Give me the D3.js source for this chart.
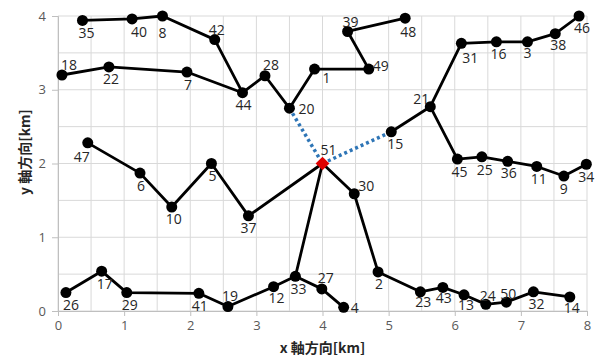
<!DOCTYPE html>
<html>
<head>
<meta charset="utf-8">
<script src="https://cdn.jsdelivr.net/npm/d3@7"></script>
<style>
  body { margin: 0; background: #fff; }
  svg { display: block; }
  .grid line { stroke: #d9d9d9; stroke-width: 1; }
  .tick-label { font-family: "Open Sans", sans-serif; font-size: 13px; fill: #595959; }
  .pt-label { font-family: "Open Sans", sans-serif; font-size: 14px; fill: #262626; }
  .axis-title { font-family: "Noto Sans CJK JP", sans-serif; font-size: 14px; font-weight: bold; fill: #262626; }
</style>
</head>
<body>
<script>
// node ids and coordinates [km]
const nodeIds = [1, 2, 3, 4, 5, 6, 7, 8, 9, 10, 11, 12, 13, 14, 15, 16, 17, 18, 19, 20, 21, 22, 23, 24, 25,
                 26, 27, 28, 29, 30, 31, 32, 33, 34, 35, 36, 37, 38, 39, 40, 41, 42, 43, 44, 45, 46, 47, 48, 49, 50, 51];
const nodeX = [3.88, 4.84, 7.10, 4.32, 2.32, 1.24, 1.95, 1.58, 7.65, 1.72, 7.24, 3.26, 6.14, 7.74, 5.04, 6.63, 0.66, 0.06, 2.57, 3.50, 5.63, 0.77, 5.48, 6.47, 6.41,
               0.12, 3.99, 3.13, 1.04, 4.48, 6.10, 7.19, 3.59, 7.99, 0.37, 6.80, 2.88, 7.52, 4.38, 1.12, 2.13, 2.37, 5.82, 2.79, 6.04, 7.88, 0.45, 5.25, 4.70, 6.78, 4.00];
const nodeY = [3.28, 0.53, 3.65, 0.05, 2.00, 1.87, 3.24, 4.00, 1.83, 1.41, 1.96, 0.33, 0.22, 0.19, 2.43, 3.65, 0.54, 3.20, 0.06, 2.75, 2.77, 3.31, 0.26, 0.09, 2.09,
               0.25, 0.30, 3.19, 0.25, 1.59, 3.63, 0.26, 0.47, 1.99, 3.94, 2.03, 1.29, 3.76, 3.79, 3.96, 0.24, 3.68, 0.32, 2.96, 2.06, 4.00, 2.28, 3.97, 3.28, 0.12, 2.00];

// solid routes (sequences of node ids)
const routes = [
  [35, 40, 8, 42, 44],
  [18, 22, 7, 44, 28, 20, 1, 49, 39, 48],
  [47, 6, 10, 5, 37, 51],
  [51, 33, 12, 19, 41, 29, 17, 26],
  [33, 27, 4],
  [51, 30, 2, 23, 43, 13, 24, 50, 32, 14],
  [15, 21, 31, 16, 3, 38, 46],
  [21, 45, 25, 36, 11, 9, 34]
];
// dotted links from the hub
const dottedLinks = [[20, 51], [51, 15]];
const hubId = 51;

const xTicks = [0, 1, 2, 3, 4, 5, 6, 7, 8];
const yTicks = [0, 1, 2, 3, 4];
const xTitle = 'x 軸方向[km]';
const yTitle = 'y 軸方向[km]';

// label offsets from the marker (px, label centre)
const labelOffset = {
  35: [4, 12], 40: [7, 13], 8: [0, 16], 42: [2, -10], 44: [1, 12], 18: [7, -11], 22: [2, 12], 7: [1, 12],
  28: [6, -11], 20: [17, 0], 47: [-6, 14], 5: [1, 12], 6: [1, 12], 10: [2, 11], 37: [0, 12], 26: [5, 12],
  17: [3, 12], 29: [3, 12], 41: [1, 12], 19: [2, -11], 12: [3, 11], 33: [3, 12], 27: [4, -11], 4: [11, 0],
  30: [12, -8], 2: [1, 12], 23: [3, 10], 43: [1, 10], 13: [2, 10], 24: [2, -9], 50: [2, -9], 32: [3, 12],
  14: [2, 11], 39: [3, -10], 48: [3, 13], 1: [12, 8], 49: [12, -4], 31: [9, 14], 16: [2, 12], 3: [0, 11],
  38: [3, 11], 46: [3, 11], 21: [-9, -8], 15: [4, 12], 51: [6, -14], 45: [2, 12], 25: [3, 13], 36: [1, 11],
  11: [2, 12], 9: [0, 12], 34: [0, 12]
};

const width = 598, height = 358;
const margin = { top: 16, right: 11, bottom: 47, left: 58 };

const nodes = nodeIds.map((id, i) => ({ id: id, x: nodeX[i], y: nodeY[i] }));
const byId = new Map(nodes.map(n => [n.id, n]));

const x = d3.scaleLinear().domain([0, 8]).range([margin.left, width - margin.right]);
const y = d3.scaleLinear().domain([0, 4]).range([height - margin.bottom, margin.top]);

const svg = d3.select('body').append('svg')
  .attr('width', width)
  .attr('height', height);

// grid, every 0.5 km
const grid = svg.append('g').attr('class', 'grid');
grid.selectAll('line.v').data(d3.range(0, 8.01, 0.5)).enter().append('line')
  .attr('x1', d => x(d)).attr('x2', d => x(d))
  .attr('y1', y(0)).attr('y2', y(4));
grid.selectAll('line.h').data(d3.range(0, 4.01, 0.5)).enter().append('line')
  .attr('y1', d => y(d)).attr('y2', d => y(d))
  .attr('x1', x(0)).attr('x2', x(8));

// axes
const xAxis = svg.append('g')
  .attr('transform', `translate(0,${y(0)})`)
  .call(d3.axisBottom(x).tickValues(xTicks).tickFormat(d3.format('d')).tickSize(5).tickPadding(5));
const yAxis = svg.append('g')
  .attr('transform', `translate(${x(0)},0)`)
  .call(d3.axisLeft(y).tickValues(yTicks).tickFormat(d3.format('d')).tickSize(6).tickPadding(10));
[xAxis, yAxis].forEach(a => {
  a.select('.domain').attr('stroke', '#bfbfbf');
  a.selectAll('.tick line').attr('stroke', '#bfbfbf');
  a.selectAll('.tick text').attr('class', 'tick-label').attr('fill', null);
});
yAxis.selectAll('.tick text').attr('dx', 4);

svg.append('text')
  .attr('class', 'axis-title')
  .attr('x', (x(0) + x(8)) / 2)
  .attr('y', 353)
  .attr('text-anchor', 'middle')
  .text(xTitle);
svg.append('text')
  .attr('class', 'axis-title')
  .attr('transform', 'translate(30,152) rotate(-90)')
  .attr('text-anchor', 'middle')
  .text(yTitle);

// routes
const line = d3.line().x(d => x(d.x)).y(d => y(d.y));
svg.append('g').selectAll('path').data(routes).enter().append('path')
  .attr('d', r => line(r.map(id => byId.get(id))))
  .attr('fill', 'none')
  .attr('stroke', '#000')
  .attr('stroke-width', 2.8)
  .attr('stroke-linejoin', 'round');

svg.append('g').selectAll('path').data(dottedLinks).enter().append('path')
  .attr('d', r => line(r.map(id => byId.get(id))))
  .attr('fill', 'none')
  .attr('stroke', '#2e75b6')
  .attr('stroke-width', 3.5)
  .attr('stroke-dasharray', '3,3');

// markers
svg.append('g').selectAll('circle').data(nodes.filter(n => n.id !== hubId)).enter().append('circle')
  .attr('cx', d => x(d.x))
  .attr('cy', d => y(d.y))
  .attr('r', 5.5)
  .attr('fill', '#000');

const hub = byId.get(hubId);
svg.append('path')
  .attr('d', d3.symbol().type(d3.symbolDiamond2).size(120)())
  .attr('transform', `translate(${x(hub.x)},${y(hub.y)})`)
  .attr('fill', '#e00000');

// labels
svg.append('g').selectAll('text').data(nodes).enter().append('text')
  .attr('class', 'pt-label')
  .attr('x', d => x(d.x) + labelOffset[d.id][0])
  .attr('y', d => y(d.y) + labelOffset[d.id][1])
  .attr('text-anchor', 'middle')
  .attr('dominant-baseline', 'central')
  .text(d => d.id);
</script>
</body>
</html>
